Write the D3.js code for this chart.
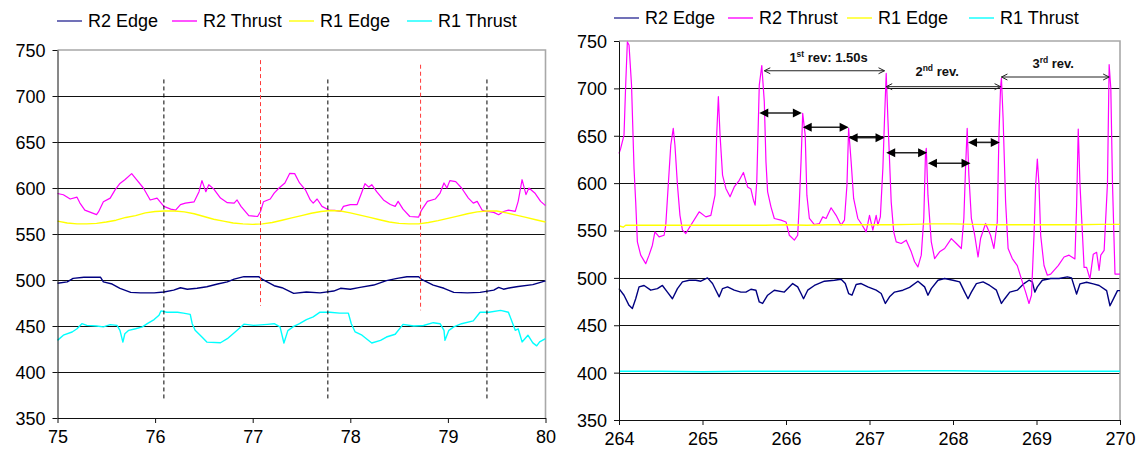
<!DOCTYPE html>
<html>
<head>
<meta charset="utf-8">
<script src="https://cdn.jsdelivr.net/npm/d3@7.9.0/dist/d3.min.js"></script>
<style>
  body { margin: 0; background: #fff; }
  svg { display: block; font-family: "Liberation Sans", Arial, sans-serif; }
</style>
</head>
<body>
<svg id="chart" width="1137" height="459"></svg>
<script>
const seriesNames = ['R2 Edge', 'R2 Thrust', 'R1 Edge', 'R1 Thrust'];
const seriesColors = ['#000080', '#ff00ff', '#ffff00', '#00ffff'];
const yTicks = [350, 400, 450, 500, 550, 600, 650, 700, 750];
const leftXTicks = [75, 76, 77, 78, 79, 80];
const rightXTicks = [264, 265, 266, 267, 268, 269, 270];

// left panel: [time, value]
const leftR2Edge = [[75.0,496.4],[75.10,498],[75.16,501.8],[75.27,503],[75.44,503],[75.47,498],[75.56,495.6],[75.64,491],[75.75,486.5],[75.85,486],[75.99,486],[76.09,487],[76.19,489],[76.26,491.6],[76.33,490],[76.43,491],[76.53,492.7],[76.64,495.6],[76.74,498],[76.81,501],[76.91,503.6],[77.06,503.6],[77.10,500.7],[77.22,493.8],[77.30,491.6],[77.42,485.5],[77.55,487],[77.69,486],[77.83,488],[77.90,491],[78.0,490],[78.10,492],[78.24,494.5],[78.37,499.3],[78.48,501.8],[78.58,503.6],[78.70,503.6],[78.73,500.7],[78.85,494.5],[78.96,491],[79.06,486.5],[79.20,486],[79.33,486.5],[79.47,489],[79.52,492],[79.57,490],[79.64,491.6],[79.72,493],[79.87,495],[80.0,499]];
const leftR2Thrust = [[75.0,594],[75.06,592.7],[75.13,588],[75.20,590],[75.23,583.6],[75.28,576],[75.40,571],[75.42,574],[75.47,585],[75.54,589],[75.59,598],[75.64,605],[75.69,609],[75.76,615.6],[75.81,609],[75.88,600],[75.95,587],[76.02,589],[76.09,580],[76.16,577],[76.21,576],[76.26,582],[76.31,583.6],[76.40,585],[76.45,596],[76.48,608],[76.52,596],[76.55,603.6],[76.60,599],[76.67,589],[76.74,584],[76.81,583.6],[76.84,587],[76.88,580],[76.96,570],[77.05,569],[77.08,574.5],[77.11,585],[77.18,588],[77.22,594.5],[77.27,600],[77.33,605.5],[77.38,616],[77.43,615.6],[77.48,605.5],[77.54,598],[77.59,587],[77.62,583.6],[77.66,588],[77.71,580],[77.78,576],[77.84,575.6],[77.90,574.5],[77.93,580],[78.00,582],[78.07,582],[78.12,596],[78.15,604.7],[78.19,601],[78.22,603.6],[78.27,596],[78.34,587],[78.41,582],[78.46,580],[78.49,585.5],[78.54,577],[78.61,569],[78.70,568.4],[78.73,576],[78.79,585.5],[78.87,588],[78.92,594.5],[78.96,605.5],[78.99,600],[79.02,608],[79.08,607],[79.14,600],[79.21,589],[79.26,583.6],[79.30,585.5],[79.35,576],[79.40,574.5],[79.47,573.5],[79.52,571],[79.57,574.5],[79.62,576],[79.69,574.6],[79.72,585.5],[79.76,609],[79.80,592.8],[79.83,600],[79.89,594.6],[79.95,585.5],[80.0,580.8]];
const leftR1Edge = [[75.0,564],[75.1,562],[75.2,561],[75.3,561],[75.4,561.5],[75.5,563],[75.6,565],[75.7,568],[75.8,570],[75.9,573],[76.0,574.5],[76.1,575],[76.2,575],[76.3,574],[76.4,572],[76.5,569],[76.6,566],[76.7,564],[76.8,562],[76.9,561],[77.0,560.5],[77.1,561],[77.2,562.5],[77.3,565],[77.4,567.5],[77.5,570],[77.6,572.5],[77.7,574.5],[77.8,575.5],[77.9,575],[78.0,573],[78.1,570.5],[78.2,568],[78.3,565.5],[78.4,563],[78.5,561.5],[78.6,561],[78.7,561],[78.8,562.5],[78.9,564.5],[79.0,567],[79.1,569.5],[79.2,572],[79.3,574],[79.4,575],[79.5,575],[79.6,573],[79.7,570.5],[79.8,568],[79.9,565.5],[80.0,563]];
const leftR1Thrust = [[75.0,434.4],[75.06,440],[75.15,443.5],[75.20,447],[75.25,452.5],[75.30,450.7],[75.40,450],[75.47,449],[75.54,451.5],[75.61,450.7],[75.64,445.3],[75.67,432.5],[75.69,441.6],[75.73,445.3],[75.80,447],[75.87,449],[75.92,452.5],[75.99,457],[76.04,461.6],[76.06,466.4],[76.12,465],[76.23,465],[76.29,464],[76.36,462.7],[76.38,452.5],[76.41,445.3],[76.48,438],[76.53,432.5],[76.67,431.8],[76.74,436.2],[76.82,443.5],[76.91,452],[77.01,450.7],[77.15,451.8],[77.22,452.5],[77.28,449],[77.32,431.5],[77.36,445],[77.42,449.6],[77.48,452.5],[77.55,457],[77.62,460],[77.69,465],[77.79,465],[77.89,464],[77.98,464],[78.01,452.5],[78.05,443.5],[78.12,440],[78.22,431.5],[78.31,434.4],[78.37,438],[78.46,441],[78.54,451.8],[78.65,450],[78.75,450.5],[78.85,453.6],[78.92,452.5],[78.96,445.3],[78.97,434.4],[79.01,445.3],[79.06,449],[79.14,452.5],[79.26,455.5],[79.33,465],[79.42,465],[79.54,467],[79.62,465],[79.69,445.3],[79.72,447],[79.76,432.7],[79.82,440],[79.87,431.7],[79.91,428.4],[79.94,432.7],[80.0,436.3]];

// right panel: [time, value]
const rightR2Edge = [[264.0,488.7],[264.06,481.7],[264.12,471],[264.16,467.6],[264.20,478],[264.24,490.5],[264.30,492],[264.38,487],[264.46,488.7],[264.52,492],[264.58,485],[264.64,478],[264.70,488.7],[264.76,495.8],[264.84,497.5],[264.92,497.5],[264.98,496.5],[265.06,500],[265.12,494],[265.16,487],[265.20,480],[265.24,488.7],[265.30,490.5],[265.38,487],[265.46,485],[265.52,485],[265.58,488],[265.64,487],[265.68,474.6],[265.72,473],[265.78,481.7],[265.86,487],[265.98,485],[266.08,494],[266.14,490.5],[266.18,483.5],[266.21,478],[266.26,487],[266.34,492],[266.46,496.5],[266.58,497.5],[266.66,498.6],[266.71,494],[266.75,483.5],[266.79,481.7],[266.84,493],[266.90,494],[266.98,490.5],[267.08,487],[267.14,483.5],[267.19,473],[267.24,480],[267.30,485],[267.40,487],[267.48,490],[267.58,496.5],[267.66,490.5],[267.70,481.7],[267.74,488.7],[267.82,497.5],[267.90,499.3],[268.0,497.5],[268.08,495.8],[268.14,485],[268.18,478],[268.22,485],[268.28,494],[268.36,495.8],[268.44,492],[268.52,487],[268.58,473],[268.62,478],[268.68,485],[268.77,487],[268.85,494],[268.91,497.5],[268.95,495.8],[268.98,485],[269.01,490.5],[269.07,497.5],[269.17,499.3],[269.27,499.3],[269.37,501],[269.42,500],[269.48,483],[269.52,493.6],[269.60,495.4],[269.68,493.6],[269.75,492],[269.84,486.5],[269.88,470.6],[269.93,479.4],[269.97,486.5],[270.0,486.5]];
const rightR2Thrust = [[264.0,631.3],[264.02,636.6],[264.06,650.7],[264.08,703.5],[264.10,749],[264.12,745.8],[264.15,703.5],[264.18,615.5],[264.20,580],[264.22,538],[264.26,524],[264.32,515],[264.36,524],[264.40,534.5],[264.43,548.6],[264.48,543.3],[264.54,545],[264.56,555.6],[264.59,598],[264.62,640],[264.65,657.7],[264.67,640],[264.70,598],[264.73,566],[264.76,550.4],[264.80,546.8],[264.86,555.6],[264.96,569.7],[265.04,564.4],[265.10,566],[265.15,587.3],[265.17,650.7],[265.19,691.2],[265.21,650.7],[265.24,608.5],[265.28,594.4],[265.33,585.6],[265.38,596],[265.44,603],[265.49,611.3],[265.54,596],[265.58,593.7],[265.61,582],[265.63,576.8],[265.65,601.4],[265.68,703.5],[265.71,724],[265.74,686],[265.76,622.5],[265.78,590.8],[265.82,575],[265.86,562.7],[265.94,560.9],[266.0,559],[266.04,545],[266.10,539.8],[266.14,545],[266.16,580],[266.18,622.5],[266.20,673.6],[266.23,650.7],[266.25,587.3],[266.28,562.7],[266.34,556.3],[266.40,557.4],[266.44,564.4],[266.48,562.7],[266.54,574],[266.60,566],[266.66,555.6],[266.70,560.9],[266.73,598],[266.75,657.7],[266.78,622.5],[266.81,583.8],[266.86,562.7],[266.90,557.4],[266.96,548.6],[267.0,566],[267.04,550.4],[267.08,566],[267.10,555.6],[267.13,564.4],[267.16,615.5],[267.18,668.3],[267.20,715.8],[267.22,668.3],[267.26,580],[267.29,548.6],[267.32,538],[267.38,536.3],[267.44,539.8],[267.50,527.5],[267.54,517],[267.58,511.6],[267.62,524],[267.65,562.7],[267.67,629.6],[267.68,636.6],[267.70,587.3],[267.74,538],[267.78,520.4],[267.84,527.5],[267.90,531],[267.98,541.5],[268.04,536.3],[268.10,531],[268.13,562.7],[268.15,615.5],[268.17,657.7],[268.19,608.5],[268.22,562.7],[268.26,545],[268.30,522],[268.33,541.5],[268.39,557.4],[268.45,545],[268.49,531],[268.53,559],[268.55,650.7],[268.57,701.8],[268.58,710.6],[268.60,668.3],[268.63,580],[268.66,531],[268.71,520.4],[268.77,513],[268.83,495.8],[268.87,485],[268.91,473],[268.94,481.7],[268.97,545],[268.99,598],[269.01,625.4],[269.03,598],[269.05,545],[269.09,513],[269.13,502.8],[269.17,504],[269.26,513],[269.33,522],[269.39,524],[269.46,520],[269.48,575],[269.50,657],[269.52,600],[269.57,511],[269.60,511],[269.64,499],[269.68,525],[269.72,527],[269.75,508],[269.77,524],[269.81,529],[269.85,600],[269.87,725],[269.89,700],[269.91,600],[269.94,504],[270.0,504]];
const rightR1Edge = [[264.0,555],[264.05,553.5],[264.08,555.5],[264.25,555.5],[264.5,555.5],[264.75,555.5],[265.0,555.5],[265.25,555.5],[265.5,555.5],[265.75,555.5],[266.0,556],[266.25,555.5],[266.5,556],[266.75,556],[267.0,556],[267.25,556],[267.5,556.5],[267.75,557],[268.0,557],[268.25,556.5],[268.5,556],[268.75,556],[269.0,556],[269.25,556],[269.5,556],[269.75,556.5],[270.0,556.5]];
const rightR1Thrust = [[264.0,401.5],[264.5,401.5],[265.0,401],[265.5,401.5],[266.0,401.5],[266.5,401.5],[267.0,401.5],[267.5,402],[268.0,402],[268.5,401.5],[269.0,401.5],[269.5,401.5],[270.0,401.5]];

// left panel reference markers: [time, top value, bottom value]
const blackMarks = [[76.09, 718, 370], [77.77, 718, 370], [79.40, 718, 370]];
const redMarks = [[77.08, 739, 472], [78.72, 734, 467]];

// right panel revolution arrows: [from, to, value]
const revArrows = [[265.74, 267.18, 718.6], [267.20, 268.57, 701.8], [268.58, 269.87, 712]];
const stepArrows = [[265.68, 266.19, 674], [266.20, 266.75, 659], [266.75, 267.18, 648], [267.20, 267.69, 632], [267.70, 268.21, 621], [268.18, 268.56, 643]];
const revLabels = [
  { t: 266.51, v: 728, parts: ['1', 'st', ' rev: 1.50s'] },
  { t: 267.81, v: 713, parts: ['2', 'nd', ' rev.'] },
  { t: 269.20, v: 721, parts: ['3', 'rd', ' rev.'] },
];

const svg = d3.select('#chart');
svg.append('rect').attr('width', 1137).attr('height', 459).attr('fill', '#fff');

function drawPanel(cfg) {
  const x = d3.scaleLinear().domain(cfg.domain).range([cfg.left, cfg.right]);
  const y = d3.scaleLinear().domain([350, 750]).range([cfg.bottom, cfg.top]);
  const g = svg.append('g');

  // gridlines
  g.append('g')
    .selectAll('line')
    .data(yTicks.filter(d => d > 350 && d < 750))
    .join('line')
    .attr('x1', cfg.left).attr('x2', cfg.right)
    .attr('y1', d => Math.round(y(d)) + 0.5).attr('y2', d => Math.round(y(d)) + 0.5)
    .attr('stroke', '#111').attr('stroke-width', 1);

  // frame top / right
  g.append('path')
    .attr('d', `M${cfg.left},${cfg.top}H${cfg.right}V${cfg.bottom}`)
    .attr('fill', 'none').attr('stroke', '#a8a8a8').attr('stroke-width', 1.6);

  // series
  const line = d3.line().x(d => x(d[0])).y(d => y(d[1]));
  cfg.series.forEach((s, i) => {
    g.append('path')
      .datum(s)
      .attr('d', line)
      .attr('fill', 'none')
      .attr('stroke', seriesColors[i])
      .attr('stroke-width', i === 1 ? 1.2 : 1.4)
      .attr('stroke-linejoin', 'round');
  });

  // axes
  const yAxis = g.append('g')
    .attr('transform', `translate(${cfg.left},0)`)
    .call(d3.axisLeft(y).tickValues(yTicks).tickSize(5).tickSizeOuter(0).tickPadding(7));
  const xAxis = g.append('g')
    .attr('transform', `translate(0,${cfg.bottom})`)
    .call(d3.axisBottom(x).tickValues(cfg.xTicks).tickSize(5).tickSizeOuter(0).tickPadding(7).tickFormat(d3.format('d')));
  [yAxis, xAxis].forEach(a => {
    a.selectAll('text').attr('font-size', 18).attr('fill', '#000')
      .attr('font-family', '"Liberation Sans", Arial, sans-serif');
    a.selectAll('line, path').attr('stroke', '#111');
  });
  yAxis.selectAll('text').attr('dy', '0.36em');

  // legend
  const lg = g.append('g').attr('transform', `translate(0,${cfg.legendY})`);
  seriesNames.forEach((name, i) => {
    const lx = cfg.legendX[i];
    lg.append('line')
      .attr('x1', lx).attr('x2', lx + 25)
      .attr('stroke', seriesColors[i]).attr('stroke-width', 1.6)
      .attr('stroke-opacity', i === 0 ? 0.7 : 0.85);
    lg.append('text')
      .attr('x', lx + 31).attr('dy', '0.36em')
      .attr('font-size', 18).attr('fill', '#000')
      .text(name);
  });

  return { g, x, y };
}

const leftP = drawPanel({
  domain: [75, 80], left: 57.5, right: 545.5, top: 50, bottom: 418,
  xTicks: leftXTicks, legendY: 21, legendX: [57, 172, 289, 407],
  series: [leftR2Edge, leftR2Thrust, leftR1Edge, leftR1Thrust],
});

const rightP = drawPanel({
  domain: [264, 270], left: 619, right: 1120, top: 41, bottom: 420,
  xTicks: rightXTicks, legendY: 18, legendX: [614, 728, 847, 969],
  series: [rightR2Edge, rightR2Thrust, rightR1Edge, rightR1Thrust],
});

// dashed markers on left panel
leftP.g.append('g')
  .selectAll('line')
  .data(blackMarks)
  .join('line')
  .attr('x1', d => leftP.x(d[0])).attr('x2', d => leftP.x(d[0]))
  .attr('y1', d => leftP.y(d[1])).attr('y2', d => leftP.y(d[2]))
  .attr('stroke', '#000').attr('stroke-width', 1).attr('stroke-dasharray', '4,3');
leftP.g.append('g')
  .selectAll('line')
  .data(redMarks)
  .join('line')
  .attr('x1', d => leftP.x(d[0])).attr('x2', d => leftP.x(d[0]))
  .attr('y1', d => leftP.y(d[1])).attr('y2', d => leftP.y(d[2]))
  .attr('stroke', '#ff3a3a').attr('stroke-width', 1).attr('stroke-dasharray', '4,3');

// revolution arrows (thin with open heads)
const ann = rightP.g.append('g').attr('stroke', '#222').attr('fill', '#000');
revArrows.forEach(([a, b, v]) => {
  const x0 = rightP.x(a), x1 = rightP.x(b), yy = rightP.y(v);
  ann.append('path')
    .attr('d', `M${x0},${yy}H${x1}M${x0 + 6},${yy - 3}L${x0},${yy}L${x0 + 6},${yy + 3}M${x1 - 6},${yy - 3}L${x1},${yy}L${x1 - 6},${yy + 3}`)
    .attr('fill', 'none').attr('stroke-width', 1);
});
// step arrows (bold with solid heads)
stepArrows.forEach(([a, b, v]) => {
  const x0 = rightP.x(a), x1 = rightP.x(b), yy = rightP.y(v);
  ann.append('line').attr('x1', x0 + 4).attr('x2', x1 - 4).attr('y1', yy).attr('y2', yy)
    .attr('stroke-width', 1.6);
  ann.append('path').attr('stroke', 'none')
    .attr('d', `M${x0},${yy}L${x0 + 9},${yy - 4.5}L${x0 + 9},${yy + 4.5}Z M${x1},${yy}L${x1 - 9},${yy - 4.5}L${x1 - 9},${yy + 4.5}Z`);
});
// labels
revLabels.forEach(l => {
  const t = rightP.g.append('text')
    .attr('x', rightP.x(l.t)).attr('y', rightP.y(l.v))
    .attr('text-anchor', 'middle').attr('font-size', 13).attr('font-weight', 'bold').attr('fill', '#111');
  t.append('tspan').text(l.parts[0]);
  t.append('tspan').attr('dy', -5).attr('font-size', 8.5).text(l.parts[1]);
  t.append('tspan').attr('dy', 5).text(l.parts[2]);
});
</script>
</body>
</html>
